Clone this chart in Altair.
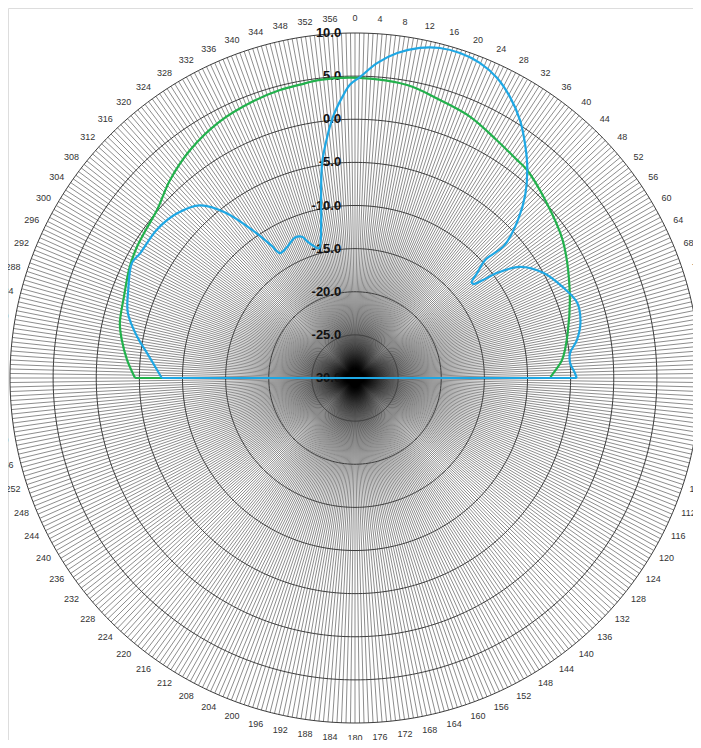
import altair as alt
import numpy as np
import pandas as pd

# ---------------- data ----------------
ring_db = [-25, -20, -15, -10, -5, 0, 5, 10]
ring_label_db = [-30, -25, -20, -15, -10, -5, 0, 5, 10]
ring_label_text = ["-30.0", "-25.0", "-20.0", "-15.0", "-10.0", "-5.0", "0.0", "5.0", "10.0"]
tick_angles = list(range(0, 360, 4))
spoke_angles = list(np.arange(0, 360, 0.75))

blue_angle = [270, 270, 276.9, 280.7, 286.0, 291.2, 297.3, 300.2, 306.8, 312.8, 318.1,
              321.9, 325.6, 327.8, 329.0, 332.6, 336.8, 339.4, 340.9, 343.0, 344.5,
              347.9, 349.2, 351.3, 353.4, 355.2, 357.4, 359.0, 0.95, 4.0, 7.4, 11.1,
              14.4, 17.9, 21.6, 25.3, 28.9, 32.6, 35.9, 39.2, 42.9, 45.9, 48.4, 47.8,
              49.3, 50.6, 51.5, 52.6, 53.5, 56.1, 60.8, 66.4, 71.3, 76.3, 80.3, 83.4,
              86.0, 88.7, 90, 90]
blue_db = [-30, -7.6, -5.7, -4.3, -2.6, -1.8, -0.9, -1.2, -1.3, -1.9, -3.1,
           -5.6, -9.5, -11.9, -13.1, -12.9, -12.3, -12.5, -13.3, -14.1, -14.4,
           -11.3, -9.0, -4.8, -1.9, 0.4, 2.6, 4.0, 4.9, 6.6, 8.0, 9.0,
           9.5, 9.6, 9.3, 8.5, 7.2, 5.5, 3.6, 1.6, -1.0, -3.7, -6.8, -9.6,
           -11.3, -12.5, -12.5, -11.3, -9.5, -6.9, -5.0, -3.7, -2.8, -3.1, -3.9, -4.9,
           -5.0, -4.5, -4.3, -30]

green_angle = [270, 270, 274.5, 279.3, 283.2, 289.4, 296, 301, 305, 310.3, 316.9, 324,
               332, 340, 345.4, 349.4, 353.3, 0.8, 10.1, 17, 23.8, 30.8, 36.6, 39.6,
               46.9, 56.4, 67.7, 78.1, 85, 89.7, 90, 90]
green_db = [-30, -4.5, -3.5, -2.6, -2.0, -1.6, -0.9, -0.5, -0.3, 0.1, 1.4, 2.6,
            3.6, 4.2, 4.5, 4.6, 4.8, 4.8, 4.5, 3.7, 3.1, 2.1, 1.5, 1.3,
            0.2, -1.1, -3.1, -4.8, -5.9, -7.3, -7.3, -30]

DB_MIN = -30
LABEL_R = 41.7

# ---------------- layout ----------------
W, H = 685, 732
PX = 345 / 40.0
CX, CY = 355 - 8, 378 - 8
xdom = [-CX / PX, (W - CX) / PX]
ydom = [-(H - CY) / PX, CY / PX]

xs = alt.Scale(domain=xdom, nice=False, zero=False)
ys = alt.Scale(domain=ydom, nice=False, zero=False)

# ---------------- tables ----------------
spokes = pd.DataFrame({"angle": spoke_angles})
ring_rows = [{"ring": r, "angle": a} for r in ring_db for a in range(0, 361, 1)]
rings = pd.DataFrame(ring_rows)
ring_labels = pd.DataFrame({"db": ring_label_db, "text": ring_label_text})
ticks = pd.DataFrame({"angle": tick_angles, "text": [str(a) for a in tick_angles]})
blue = pd.DataFrame({"angle": blue_angle, "db": blue_db, "i": range(len(blue_db))})
green = pd.DataFrame({"angle": green_angle, "db": green_db, "i": range(len(green_db))})

rad = "datum.angle*PI/180"

spoke_layer = alt.Chart(spokes).transform_calculate(
    x0="0", y0="0",
    x1=f"40*sin({rad})", y1=f"40*cos({rad})"
).mark_rule(color="#000000", strokeOpacity=0.45, strokeWidth=1.0).encode(
    x=alt.X("x0:Q", scale=xs, axis=None),
    y=alt.Y("y0:Q", scale=ys, axis=None),
    x2="x1:Q", y2="y1:Q",
)

ring_layer = alt.Chart(rings).transform_calculate(
    r=f"datum.ring - {DB_MIN}"
).transform_calculate(
    x=f"datum.r*sin({rad})", y=f"datum.r*cos({rad})"
).mark_line(color="#3c3c3c", strokeWidth=1).encode(
    x=alt.X("x:Q", scale=xs, axis=None),
    y=alt.Y("y:Q", scale=ys, axis=None),
    detail="ring:N",
    order="angle:Q",
)

ring_text = alt.Chart(ring_labels).transform_calculate(
    x="-1.6", y=f"datum.db - {DB_MIN}"
).mark_text(align="right", baseline="middle", fontSize=13, fontWeight="bold",
            font="Liberation Sans", color="#111111").encode(
    x=alt.X("x:Q", scale=xs, axis=None),
    y=alt.Y("y:Q", scale=ys, axis=None),
    text="text:N",
)

tick_text = alt.Chart(ticks).transform_calculate(
    x=f"{LABEL_R}*sin({rad})", y=f"{LABEL_R}*cos({rad})"
).mark_text(align="center", baseline="middle", fontSize=9,
            font="Liberation Sans", color="#333333").encode(
    x=alt.X("x:Q", scale=xs, axis=None),
    y=alt.Y("y:Q", scale=ys, axis=None),
    text="text:N",
)


def pattern(df, color):
    n = len(df)
    base = alt.Chart(df).transform_calculate(
        r=f"max(datum.db - {DB_MIN}, 0)"
    ).transform_calculate(
        x=f"datum.r*sin({rad})", y=f"datum.r*cos({rad})"
    )
    enc = dict(
        x=alt.X("x:Q", scale=xs, axis=None),
        y=alt.Y("y:Q", scale=ys, axis=None),
        order="i:Q",
    )
    curve = base.transform_filter(f"datum.db > {DB_MIN}").mark_line(
        color=color, strokeWidth=2.2, interpolate="catmull-rom").encode(**enc)
    center = base.transform_filter(f"datum.i <= 1 || datum.i >= {n - 2}").mark_line(
        color=color, strokeWidth=2.2, interpolate="linear").encode(**enc)
    return [center, curve]


chart = alt.layer(
    spoke_layer, ring_layer, ring_text, tick_text,
    *pattern(green, "#22b14c"), *pattern(blue, "#1ea7e4"),
).properties(
    width=W, height=H, autosize=alt.AutoSizeParams(type="none"), padding=0,
).configure_view(stroke=None).configure(background="white")

chart.save("out.html", embed_options={"renderer": "svg", "actions": False})
